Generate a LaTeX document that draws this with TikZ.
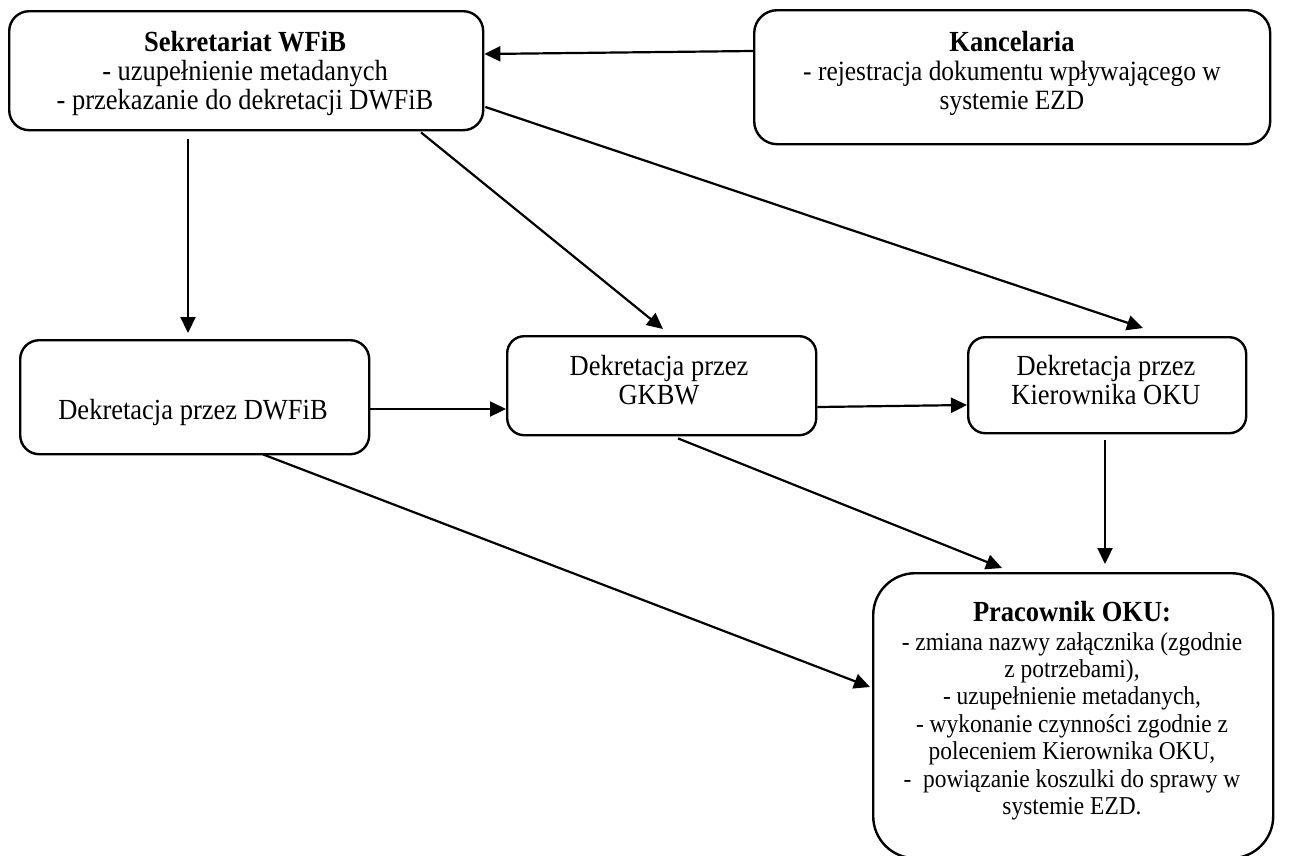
\documentclass[tikz,border=0pt]{standalone}
\usepackage{fontspec}
\setmainfont{Liberation Serif}
\usetikzlibrary{arrows.meta,calc}
% text sizes; the glyphs are drawn a little taller than wide
\newcommand\sizeA{\fontsize{26.5}{26.8}\selectfont}
\newcommand\sizeB{\fontsize{25.4}{26.8}\selectfont}
\newcommand\sizeC{\fontsize{23.4}{24.9}\selectfont}
\newcommand\tall[1]{\scalebox{1}[1.1]{#1}}
\begin{document}
\begin{tikzpicture}[x=1pt,y=-1pt,
  box/.style={draw=black,line width=2.4pt,inner sep=0pt,anchor=north west},
  txt/.style={inner sep=0pt,anchor=base},
  arr/.style={line width=2.2pt,-{Triangle[length=16pt,width=15pt]}}]
\useasboundingbox (0,0) rectangle (1308,855);

% boxes
\node[box,minimum width=474pt,minimum height=119pt,rounded corners=20pt] (sek) at (8,10) {};
\node[box,minimum width=516pt,minimum height=134pt,rounded corners=23pt] (kan) at (753,9) {};
\node[box,minimum width=349pt,minimum height=114pt,rounded corners=19pt] (dw) at (19,339) {};
\node[box,minimum width=309pt,minimum height=99pt,rounded corners=17pt] (gk) at (506,335) {};
\node[box,minimum width=278pt,minimum height=96pt,rounded corners=17pt] (ki) at (967,336) {};
\node[box,minimum width=400pt,minimum height=285pt,rounded corners=42pt] (pr) at (872,572) {};

% texts
\node[txt] (sek-t) at (245,51) {\tall{\sizeA\begin{tabular}[t]{@{}c@{}}\textbf{Sekretariat WFiB}\\- uzupełnienie metadanych\\- przekazanie do dekretacji DWFiB\end{tabular}}};
\node[txt] (kan-t) at (1012,51) {\tall{\sizeB\begin{tabular}[t]{@{}c@{}}{\sizeA\textbf{Kancelaria}}\\- rejestracja dokumentu wpływającego w\\systemie EZD\end{tabular}}};
\node[txt] (dw-t) at (193,419) {\tall{\sizeA Dekretacja przez DWFiB}};
\node[txt] (gk-t) at (659,375) {\tall{\sizeA\begin{tabular}[t]{@{}c@{}}Dekretacja przez\\GKBW\end{tabular}}};
\node[txt] (ki-t) at (1106,375) {\tall{\sizeA\begin{tabular}[t]{@{}c@{}}Dekretacja przez\\Kierownika OKU\end{tabular}}};
\node[txt] (pr-t) at (1072,621) {\tall{\sizeC\begin{tabular}[t]{@{}c@{}}{\sizeA\textbf{Pracownik OKU:}}\\[1.5pt]- zmiana nazwy załącznika (zgodnie\\z potrzebami),\\- uzupełnienie metadanych,\\- wykonanie czynności zgodnie z\\poleceniem Kierownika OKU,\\-\ \ powiązanie koszulki do sprawy w\\systemie EZD.\end{tabular}}};

% connectors
\draw[arr] ($(kan.north west)+(0,42)$) -- ($(sek.north east)+(0,44)$);
\draw[arr] ($(sek.south west)+(180,8)$) -- ($(dw.north west)+(169,-6)$);
\draw[arr] ($(sek.south west)+(413,1)$) -- ($(gk.north west)+(157,-6)$);
\draw[arr] ($(sek.north east)+(1,97)$) -- ($(ki.north west)+(176,-8)$);
\draw[arr] ($(dw.north east)+(0,70)$) -- ($(gk.north west)+(0,74)$);
\draw[arr] ($(gk.north east)+(0,72)$) -- ($(ki.north west)+(0,69)$);
\draw[arr] ($(gk.south west)+(172,2)$) -- ($(pr.north west)+(130,-4)$);
\draw[arr] ($(dw.south west)+(244,-1)$) -- ($(pr.north west)+(-2,115)$);
\draw[arr] ($(ki.south west)+(138,6)$) -- ($(pr.north west)+(233,-8)$);
\end{tikzpicture}
\end{document}
